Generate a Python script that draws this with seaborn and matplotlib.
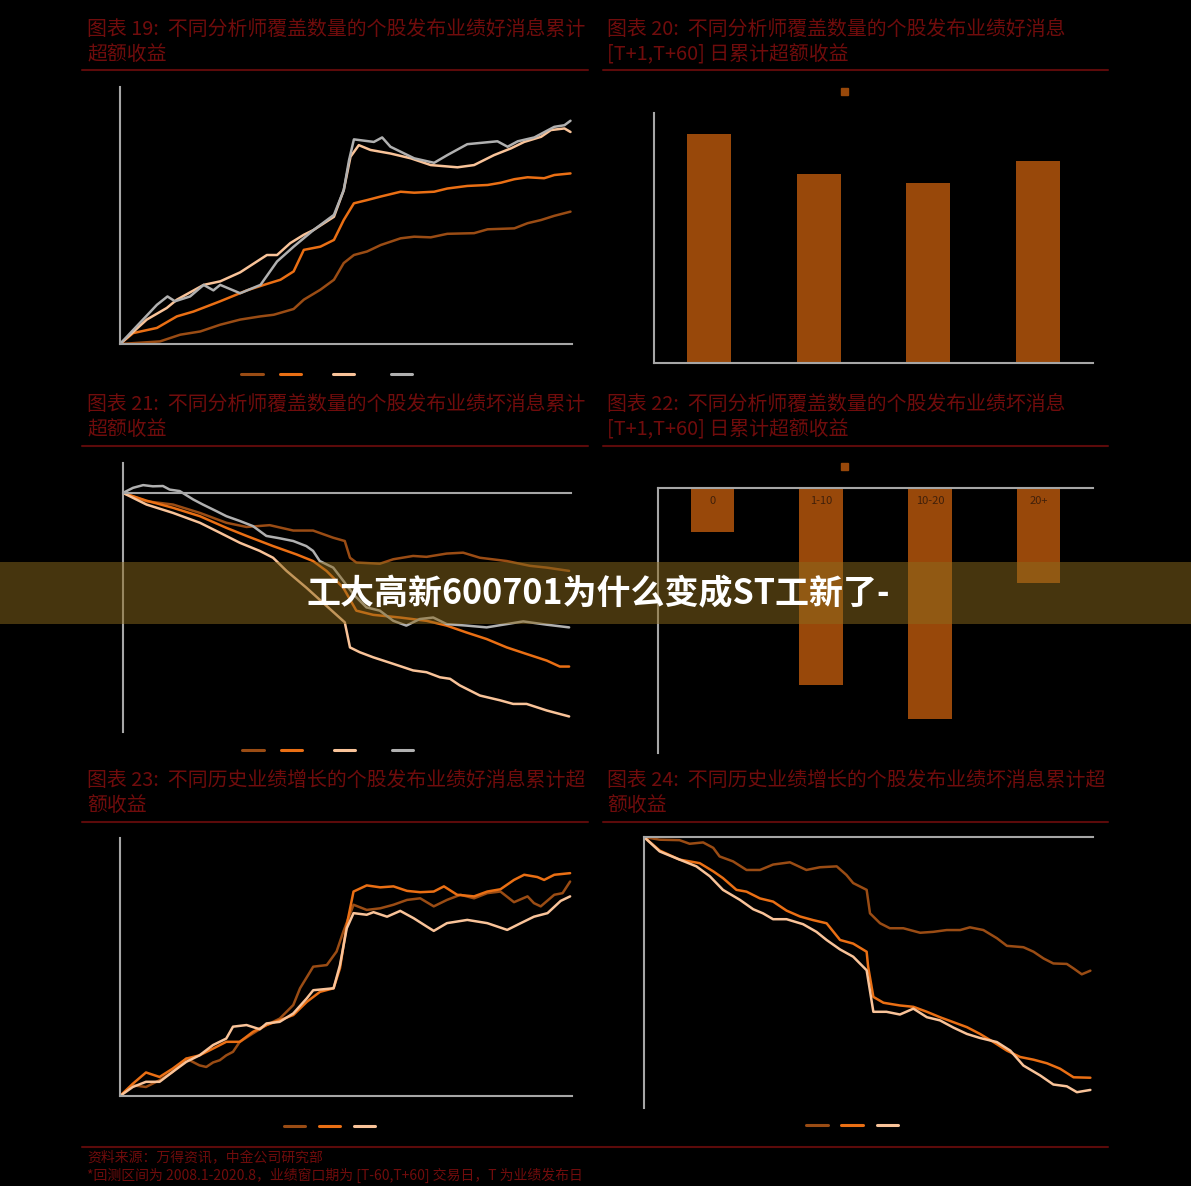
import matplotlib.pyplot as plt
import numpy as np
import pandas as pd
import seaborn as sns
from matplotlib.lines import Line2D
from matplotlib.patches import Patch, Rectangle

W, H = 1191, 1186

# ---- colours -------------------------------------------------------------
BROWN = "#9a4c14"
ORANGE = "#ea6f14"
PEACH = "#f9c399"
GREY = "#b0b0b0"
BAR = "#98480a"
AXIS = "#a6a6a6"
TITLE_RED = "#700c0c"
RULE_RED = "#5c0a0a"

# ---- data: cumulative excess return (%), day relative to report (T) -------
BAR_GROUPS = ["0", "1-10", "10-20", "20+"]
GOOD_NEWS_CAR = [7.34, 6.04, 5.75, 6.46]
BAD_NEWS_CAR = [-1.00, -4.47, -5.22, -2.14]

F19_BROWN_DAY = [-60, -49.4, -44, -38.7, -33.4, -28.1, -22.7, -19.2, -13.9, -11.2, -6.8, -3.2, -0.6, 2.1, 5.6, 9.2, 14.5, 18.1, 22.5, 26.9, 34, 37.6, 44.7, 48.2, 51.8, 55.3, 59.6]
F19_BROWN_RET = [0, 0.08, 0.29, 0.39, 0.60, 0.76, 0.86, 0.91, 1.09, 1.38, 1.69, 2.00, 2.52, 2.77, 2.88, 3.08, 3.29, 3.34, 3.32, 3.43, 3.45, 3.57, 3.60, 3.76, 3.86, 3.99, 4.12]
F19_ORANGE_DAY = [-60, -56.5, -50.2, -44.9, -40.5, -33.4, -26.3, -21.0, -17.4, -13.9, -11.2, -6.8, -3.2, -0.6, 2.1, 5.6, 9.2, 14.5, 18.1, 23.4, 26.9, 32.2, 37.6, 41.1, 44.7, 48.2, 52.6, 55.3, 59.6]
F19_ORANGE_RET = [0, 0.34, 0.50, 0.86, 1.01, 1.33, 1.67, 1.87, 2.00, 2.26, 2.93, 3.03, 3.24, 3.86, 4.38, 4.48, 4.59, 4.74, 4.71, 4.74, 4.84, 4.92, 4.95, 5.02, 5.13, 5.19, 5.16, 5.26, 5.31]
F19_PEACH_DAY = [-60, -52.9, -47.6, -44.9, -37.8, -33.4, -28.1, -21.0, -18.3, -14.8, -11.2, -8.6, -3.2, -0.6, 1.2, 3.4, 6.5, 11.8, 17.2, 22.5, 29.6, 34, 39.3, 43.8, 47.3, 51.8, 54.4, 58, 59.6]
F19_PEACH_RET = [0, 0.76, 1.12, 1.38, 1.84, 1.95, 2.23, 2.77, 2.77, 3.14, 3.40, 3.55, 3.96, 4.79, 5.83, 6.19, 6.04, 5.93, 5.78, 5.57, 5.50, 5.57, 5.88, 6.09, 6.29, 6.45, 6.66, 6.71, 6.60]
F19_GREY_DAY = [-60, -50.2, -47.4, -45.4, -41.4, -37.8, -35.2, -33.4, -28.1, -22.7, -18.3, -13.9, -8.6, -3.2, -0.6, 0.8, 2.1, 7.4, 9.6, 11.8, 18.1, 23.4, 26.9, 32.2, 40.2, 42.9, 45.6, 50, 55.3, 58, 59.6]
F19_GREY_RET = [0, 1.22, 1.48, 1.33, 1.48, 1.84, 1.67, 1.84, 1.58, 1.84, 2.57, 3.03, 3.55, 4.02, 4.79, 5.72, 6.37, 6.29, 6.43, 6.14, 5.78, 5.64, 5.88, 6.22, 6.31, 6.14, 6.31, 6.43, 6.76, 6.81, 6.95]

F21_BROWN_DAY = [-60, -53.7, -46.6, -39.4, -32.3, -26.9, -20.7, -14.4, -9.1, -3.7, -0.6, 0.8, 2.5, 8.8, 12.4, 17.7, 21.3, 26.7, 31.1, 35.6, 42.8, 49, 53.5, 59.5]
F21_BROWN_RET = [0, -0.28, -0.39, -0.67, -1.00, -1.14, -1.08, -1.26, -1.26, -1.50, -1.61, -2.17, -2.33, -2.37, -2.22, -2.11, -2.14, -2.03, -2.00, -2.17, -2.28, -2.44, -2.50, -2.61]
F21_ORANGE_DAY = [-60, -53.7, -46.6, -39.4, -32.3, -26.9, -19.8, -13.5, -9.1, -5.5, -1, 2.5, 7, 14.2, 21.3, 26.7, 32, 37.4, 42.8, 48.1, 53.5, 57, 59.5]
F21_ORANGE_RET = [0, -0.26, -0.50, -0.78, -1.17, -1.44, -1.78, -2.06, -2.28, -2.61, -3.17, -3.94, -4.08, -4.17, -4.28, -4.44, -4.67, -4.89, -5.17, -5.39, -5.61, -5.81, -5.81]
F21_PEACH_DAY = [-60, -53.7, -46.6, -39.4, -34.1, -28.7, -23.4, -19.8, -16.2, -10.9, -5.5, -0.6, 0.8, 3.4, 7, 12.4, 17.7, 21.3, 24.9, 27.6, 30.2, 35.6, 41, 44.5, 48.1, 53.5, 59.5]
F21_PEACH_RET = [0, -0.39, -0.67, -1.00, -1.33, -1.67, -1.94, -2.17, -2.61, -3.17, -3.78, -4.33, -5.17, -5.33, -5.50, -5.72, -5.94, -6.00, -6.17, -6.22, -6.44, -6.78, -6.94, -7.06, -7.06, -7.28, -7.48]
F21_GREY_DAY = [-60, -57.3, -54.6, -52, -49.3, -47.5, -44.8, -41.2, -38.6, -35, -32.3, -28.7, -25.2, -21.6, -18, -14.4, -10.9, -9.1, -7.3, -3.7, -1, 1.7, 5.2, 8.8, 12.4, 15.9, 19.5, 23.1, 26.7, 32, 37.4, 42.8, 47.2, 53.5, 59.5]
F21_GREY_RET = [0, 0.17, 0.26, 0.22, 0.23, 0.11, 0.06, -0.22, -0.39, -0.61, -0.78, -0.94, -1.11, -1.44, -1.52, -1.61, -1.78, -1.94, -2.28, -2.50, -2.94, -3.39, -3.83, -3.94, -4.28, -4.44, -4.22, -4.17, -4.39, -4.44, -4.50, -4.39, -4.30, -4.41, -4.50]

F23_BROWN_DAY = [-60, -56.6, -53.1, -49.5, -46, -42.4, -38.9, -37.1, -35.3, -33.5, -31.8, -30, -28.2, -24.7, -21.1, -17.6, -14, -12.2, -8.7, -5.1, -2.5, -0.7, 2, 5.5, 9.1, 12.6, 16.2, 19.7, 23.3, 26.8, 30.4, 34, 37.5, 41, 44.6, 48.2, 49.9, 51.7, 55.3, 57.5, 59.5]
F23_BROWN_RET = [0, 0.33, 0.28, 0.49, 0.75, 1.16, 0.95, 0.90, 1.04, 1.11, 1.26, 1.37, 1.68, 1.94, 2.20, 2.40, 2.82, 3.34, 4.01, 4.06, 4.48, 5.10, 5.93, 5.77, 5.82, 5.93, 6.08, 6.13, 5.88, 6.08, 6.24, 6.13, 6.29, 6.34, 6.01, 6.19, 5.98, 5.88, 6.24, 6.29, 6.65]
F23_ORANGE_DAY = [-60, -56.6, -53.1, -49.5, -46, -42.4, -38.9, -35.3, -31.8, -28.2, -24.7, -21.1, -17.6, -14, -10.4, -6.9, -3.3, -1.6, 0.2, 2, 5.5, 9.1, 12.6, 16.2, 19.7, 23.3, 26, 29.5, 34, 37.5, 41, 44.6, 47.3, 50.8, 52.6, 55.3, 59.5]
F23_ORANGE_RET = [0, 0.38, 0.73, 0.59, 0.85, 1.16, 1.26, 1.47, 1.68, 1.68, 1.99, 2.20, 2.35, 2.51, 2.92, 3.23, 3.34, 3.96, 5.31, 6.34, 6.53, 6.47, 6.50, 6.36, 6.32, 6.34, 6.50, 6.24, 6.19, 6.34, 6.41, 6.70, 6.86, 6.79, 6.70, 6.86, 6.91]
F23_PEACH_DAY = [-60, -56.6, -53.1, -49.5, -46, -42.4, -38.9, -35.3, -31.8, -30, -26.4, -22.9, -21.1, -17.6, -14, -10.4, -8.7, -3.3, -1.6, 0.2, 2, 5.5, 7.3, 10.9, 14.4, 18, 21.5, 23.3, 26.8, 32.2, 37.5, 42.8, 46.4, 49.9, 53.5, 57, 59.5]
F23_PEACH_RET = [0, 0.28, 0.44, 0.44, 0.75, 1.06, 1.26, 1.58, 1.78, 2.15, 2.20, 2.07, 2.25, 2.30, 2.56, 3.03, 3.28, 3.34, 4.06, 5.20, 5.67, 5.62, 5.70, 5.56, 5.74, 5.51, 5.25, 5.12, 5.36, 5.46, 5.36, 5.15, 5.36, 5.56, 5.67, 6.05, 6.19]

F24_BROWN_DAY = [-60, -55.8, -50.5, -47.8, -44.2, -41.5, -39.8, -36.2, -32.6, -29, -25.5, -21, -16.6, -13, -8.5, -5.9, -4.1, -0.5, 0.4, 3.1, 5.7, 9.3, 13.8, 17.3, 20.9, 24.5, 27.1, 30.7, 34.3, 37, 41.4, 44.1, 46.8, 49.4, 53, 54.8, 57, 59.3]
F24_BROWN_RET = [0, -0.06, -0.07, -0.15, -0.12, -0.24, -0.43, -0.54, -0.73, -0.73, -0.61, -0.56, -0.73, -0.67, -0.65, -0.84, -1.02, -1.17, -1.69, -1.91, -2.02, -2.02, -2.12, -2.10, -2.06, -2.06, -2.00, -2.06, -2.24, -2.41, -2.44, -2.54, -2.69, -2.80, -2.81, -2.91, -3.04, -2.96]
F24_ORANGE_DAY = [-60, -55.8, -50.5, -45.1, -41.5, -38.9, -35.3, -32.6, -29, -25.5, -21.9, -18.3, -14.8, -11.2, -7.6, -4.1, -0.5, -0.1, 1.3, 4, 8.4, 12, 15.6, 19.1, 22.7, 26.3, 29.8, 33.4, 37, 40.5, 44.1, 47.7, 51.2, 54.8, 59.3]
F24_ORANGE_RET = [0, -0.30, -0.50, -0.58, -0.76, -0.91, -1.17, -1.21, -1.36, -1.43, -1.63, -1.76, -1.84, -1.91, -2.28, -2.36, -2.54, -2.87, -3.54, -3.67, -3.73, -3.76, -3.87, -3.99, -4.10, -4.21, -4.36, -4.54, -4.73, -4.87, -4.93, -5.01, -5.13, -5.32, -5.33]
F24_PEACH_DAY = [-60, -55.8, -50.5, -46, -42.4, -38.9, -34.4, -30.8, -28.2, -25.5, -21.9, -17.5, -13.9, -11.2, -7.6, -4.1, -0.5, 1.3, 4.8, 8.4, 12, 15.6, 19.1, 22.7, 26.3, 29.8, 34.3, 37.9, 41.4, 45.9, 49.4, 53, 55.7, 59.3]
F24_PEACH_RET = [0, -0.32, -0.50, -0.65, -0.87, -1.17, -1.39, -1.60, -1.69, -1.82, -1.82, -1.93, -2.10, -2.28, -2.49, -2.65, -2.95, -3.87, -3.87, -3.93, -3.80, -3.99, -4.06, -4.22, -4.36, -4.45, -4.54, -4.73, -5.06, -5.28, -5.48, -5.52, -5.65, -5.60]

# ---- text ----------------------------------------------------------------
TITLES = {
    19: "图表 19:  不同分析师覆盖数量的个股发布业绩好消息累计\n超额收益",
    20: "图表 20:  不同分析师覆盖数量的个股发布业绩好消息\n[T+1,T+60] 日累计超额收益",
    21: "图表 21:  不同分析师覆盖数量的个股发布业绩坏消息累计\n超额收益",
    22: "图表 22:  不同分析师覆盖数量的个股发布业绩坏消息\n[T+1,T+60] 日累计超额收益",
    23: "图表 23:  不同历史业绩增长的个股发布业绩好消息累计超\n额收益",
    24: "图表 24:  不同历史业绩增长的个股发布业绩坏消息累计超\n额收益",
}
SOURCE = "资料来源：万得资讯，中金公司研究部\n*回测区间为 2008.1-2020.8，业绩窗口期为 [T-60,T+60] 交易日，T 为业绩发布日"
BANNER = "工大高新600701为什么变成ST工新了-"


def fig_rect(left, top, right, bottom):
    return [left / W, 1 - bottom / H, (right - left) / W, (bottom - top) / H]


def style_axes(ax, ylim):
    for s in ("top", "right"):
        ax.spines[s].set_visible(False)
    for s in ("left", "bottom"):
        ax.spines[s].set_color(AXIS)
        ax.spines[s].set_linewidth(1.5)
    ax.set_ylim(*ylim)
    ax.set_yticks(np.arange(ylim[0], ylim[1] + 1))
    ax.tick_params(axis="y", direction="in", length=4, width=1, colors=AXIS, labelleft=False)
    ax.set_xlabel("")
    ax.set_ylabel("")


def line_panel(rect, series, ylim, labels, legend_at):
    ax = fig.add_axes(rect)
    frames = [pd.DataFrame({"day": d, "ret": r, "group": name}) for name, d, r, _ in series]
    df = pd.concat(frames, ignore_index=True)
    palette = {name: c for name, _, _, c in series}
    sns.lineplot(data=df, x="day", y="ret", hue="group", hue_order=list(palette),
                 palette=palette, estimator=None, linewidth=1.8, legend=False, ax=ax)
    style_axes(ax, ylim)
    ax.set_xlim(-60, 60)
    ax.spines["bottom"].set_position(("data", 0))
    ax.set_xticks(np.arange(-60, 61))
    ax.tick_params(axis="x", direction="inout", length=4, width=1, colors=AXIS, labelbottom=False)
    handles = [Line2D([], [], color=c, lw=2.2) for *_, c in series]
    leg = ax.legend(handles, labels, loc="center", bbox_to_anchor=legend_at, ncol=len(handles),
                    frameon=False, fontsize=7, handlelength=2.2, handletextpad=0.4, columnspacing=0.8)
    for t in leg.get_texts():
        t.set_color("black")
    return ax


def bar_panel(rect, values, ylim, legend_at, show_labels):
    ax = fig.add_axes(rect)
    sns.barplot(x=BAR_GROUPS, y=values, color=BAR, saturation=1, width=0.4, linewidth=0, ax=ax)
    style_axes(ax, ylim)
    ax.set_axisbelow(False)  # keep category labels above the bars
    ax.set_xlim(-0.5, 3.5)
    ax.spines["bottom"].set_position(("data", 0))
    ax.set_xticks(np.arange(-0.5, 4), minor=True)
    ax.tick_params(axis="x", which="minor", direction="in", length=4, width=1, colors=AXIS)
    ax.tick_params(axis="x", which="major", length=0, pad=6, labelsize=8,
                   labelcolor="#40200a" if show_labels else "black")
    ax.legend([Patch(color=BAR)], [" "], loc="center left", bbox_to_anchor=legend_at,
              frameon=False, fontsize=7, handlelength=0.7, handleheight=0.7, borderpad=0)
    return ax


sns.set_theme(style="white", rc={"figure.facecolor": "black", "axes.facecolor": "black",
                                 "savefig.facecolor": "black"})
plt.rcParams["font.family"] = ["Noto Sans CJK SC", "DejaVu Sans"]

fig = plt.figure(figsize=(W / 100, H / 100), dpi=100)

COUNT_LABELS = BAR_GROUPS
BLANK_LABELS = [" ", " ", " "]

line_panel(fig_rect(120, 87, 572, 344),
           [("0", F19_BROWN_DAY, F19_BROWN_RET, BROWN), ("1-10", F19_ORANGE_DAY, F19_ORANGE_RET, ORANGE),
            ("10-20", F19_PEACH_DAY, F19_PEACH_RET, PEACH), ("20+", F19_GREY_DAY, F19_GREY_RET, GREY)],
           (0, 8), COUNT_LABELS, (0.48, -0.12))
bar_panel(fig_rect(654, 113, 1093, 363), GOOD_NEWS_CAR, (0, 8), (0.415, 1.085), False)

line_panel(fig_rect(123, 463, 571, 732),
           [("0", F21_BROWN_DAY, F21_BROWN_RET, BROWN), ("1-10", F21_ORANGE_DAY, F21_ORANGE_RET, ORANGE),
            ("10-20", F21_PEACH_DAY, F21_PEACH_RET, PEACH), ("20+", F21_GREY_DAY, F21_GREY_RET, GREY)],
           (-8, 1), COUNT_LABELS, (0.48, -0.067))
bar_panel(fig_rect(658, 488, 1093, 753), BAD_NEWS_CAR, (-6, 0), (0.41, 1.08), True)

line_panel(fig_rect(120, 838, 572, 1096),
           [("a", F23_BROWN_DAY, F23_BROWN_RET, BROWN), ("b", F23_ORANGE_DAY, F23_ORANGE_RET, ORANGE),
            ("c", F23_PEACH_DAY, F23_PEACH_RET, PEACH)],
           (0, 8), BLANK_LABELS, (0.47, -0.116))
line_panel(fig_rect(644, 837, 1093, 1108),
           [("a", F24_BROWN_DAY, F24_BROWN_RET, BROWN), ("b", F24_ORANGE_DAY, F24_ORANGE_RET, ORANGE),
            ("c", F24_PEACH_DAY, F24_PEACH_RET, PEACH)],
           (-6, 0), BLANK_LABELS, (0.47, -0.066))

# panel titles and rules
for num, (x_px, top_px, rule_px, x0, x1) in {
    19: (87, 19, 70, 82, 588), 20: (607, 19, 70, 603, 1108),
    21: (87, 394, 446, 82, 588), 22: (607, 394, 446, 603, 1108),
    23: (87, 770, 822, 82, 588), 24: (607, 770, 822, 603, 1108),
}.items():
    fig.text(x_px / W, 1 - top_px / H, TITLES[num], ha="left", va="top", fontsize=14.3,
             color=TITLE_RED, linespacing=1.25)
    fig.add_artist(Line2D([x0 / W, x1 / W], [1 - rule_px / H] * 2, color=RULE_RED, lw=1.5,
                          transform=fig.transFigure))

fig.add_artist(Line2D([82 / W, 1108 / W], [1 - 1147 / H] * 2, color=RULE_RED, lw=1.5,
                      transform=fig.transFigure))
fig.text(87 / W, 1 - 1151 / H, SOURCE, ha="left", va="top", fontsize=10, color=TITLE_RED, linespacing=1.2)

# overlay banner
fig.add_artist(Rectangle((0, 1 - 624 / H), 1, 62 / H, transform=fig.transFigure,
                         facecolor="#8c6a1c", alpha=0.5, lw=0, zorder=10))
fig.text(0.502, 1 - 594 / H, BANNER, ha="center", va="center", color="white", fontsize=24.5,
         fontweight="bold", zorder=11)

fig.savefig("out.png", dpi=100, facecolor="black")
